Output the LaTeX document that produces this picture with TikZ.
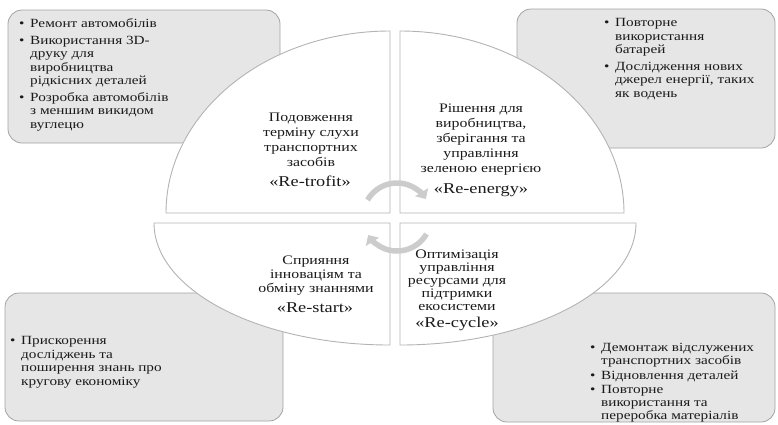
\documentclass[tikz,border=0pt]{standalone}
\usepackage{fontspec}
\setmainfont{Liberation Serif}[FakeStretch=1.22]
\usetikzlibrary{arrows.meta}
\definecolor{Ink}{HTML}{1A1A1A}
\definecolor{BoxFill}{HTML}{E6E6E6}
\definecolor{BoxEdge}{HTML}{A3A3A3}
\definecolor{PieEdge}{HTML}{B3B3B3}
\definecolor{Swirl}{HTML}{CCCCCC}
\newcommand{\bul}{\makebox[11pt][l]{\textbullet}}
\newcommand{\ind}{\hspace*{11pt}}

\begin{document}
\begin{tikzpicture}[x=1pt,y=1pt,
  cornerbox/.style={draw=BoxEdge,fill=BoxFill,line width=0.8pt,rounded corners=14pt},
  pie/.style={draw=PieEdge,fill=white,line width=0.9pt},
  quadtxt/.style={align=center,inner sep=0pt,text=Ink,font=\fontsize{13}{15}\selectfont},
  quadtag/.style={inner sep=0pt,text=Ink,font=\fontsize{15}{17}\selectfont},
  listtxt/.style={align=left,inner sep=0pt,anchor=west,text=Ink,font=\fontsize{12.5}{13.5}\selectfont},
  swirl/.style={draw=Swirl,line width=5.5pt,-{Triangle[length=8pt,width=15pt]}}]
\useasboundingbox (0,0) rectangle (778,-424);
% corner boxes
\draw[cornerbox] (8,-10) rectangle (280,-143);
\draw[cornerbox] (517,-9) rectangle (775,-148);
\draw[cornerbox] (5,-293) rectangle (283,-421);
\draw[cornerbox] (493,-293) rectangle (775,-422);
\node[listtxt] (tlList) at (19,-75) {\bul Ремонт автомобілів\\[3pt]
  \bul Використання 3D-\\ \ind друку для\\ \ind виробництва\\ \ind рідкісних деталей\\[3pt]
  \bul Розробка автомобілів\\ \ind з меншим викидом\\ \ind вуглецю};
\node[listtxt] (trList) at (604,-59) {\bul Повторне\\ \ind використання\\ \ind батарей\\[3pt]
  \bul Дослідження нових\\ \ind джерел енергії, таких\\ \ind як водень};
\node[listtxt] (blList) at (10,-362) {\bul Прискорення\\ \ind досліджень та\\
  \ind поширення знань про\\ \ind кругову економіку};
\node[listtxt,font=\fontsize{12.5}{13}\selectfont] (brList) at (590,-383) {\bul Демонтаж відслужених\\ \ind транспортних засобів\\[1.5pt]
  \bul Відновлення деталей\\[1.5pt]
  \bul Повторне\\ \ind використання та\\ \ind переробка матеріалів};
% four quarters
\draw[pie] (390,-213) -- ++(-224,0) arc[start angle=180,end angle=90,x radius=224,y radius=182] -- cycle;
\draw[pie] (400,-213) -- ++(0,182) arc[start angle=90,end angle=0,x radius=224,y radius=182] -- cycle;
\draw[pie] (390,-223) -- ++(-236,0) arc[start angle=180,end angle=270,x radius=236,y radius=122] -- cycle;
\draw[pie] (400,-223) -- ++(236,0) arc[start angle=0,end angle=-90,x radius=236,y radius=122] -- cycle;
\node[quadtxt] (retrofitTxt) at (311,-139.5) {Подовження\\терміну слухи\\транспортних\\засобів};
\node[quadtag] (retrofit) at (310,-181) {«Re-trofit»};
\node[quadtxt] (reenergyTxt) at (481,-140) {Рішення для\\виробництва,\\зберігання та\\управління\\зеленою енергією};
\node[quadtag] (reenergy) at (481,-190) {«Re-energy»};
\node[quadtxt,font=\fontsize{13}{14}\selectfont] (restartTxt) at (316,-276) {Сприяння\\інноваціям та\\обміну знаннями};
\node[quadtag] (restart) at (315,-308) {«Re-start»};
\node[quadtxt,font=\fontsize{13}{13}\selectfont] (recycleTxt) at (457,-280) {Оптимізація\\управління\\ресурсами для\\підтримки\\екосистеми};
\node[quadtag] (recycle) at (457,-324) {«Re-cycle»};
% swirl in the middle
\coordinate (hub) at (397,-217);
\draw[swirl] ([shift={(150:34)}]hub) arc[start angle=150,end angle=32,radius=34];
\draw[swirl] ([shift={(-30:34)}]hub) arc[start angle=-30,end angle=-148,radius=34];
\end{tikzpicture}
\end{document}
